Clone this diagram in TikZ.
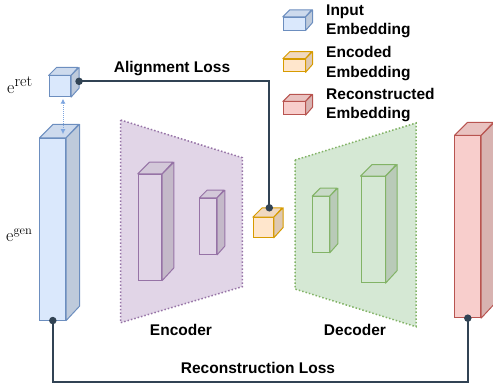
\documentclass[tikz,border=0pt]{standalone}
\usepackage{fontspec}
\usetikzlibrary{arrows.meta,calc}
\newfontfamily\labfont{Liberation Sans}

\definecolor{blueF}{HTML}{DAE8FC}\definecolor{blueD}{HTML}{6C8EBF}
\definecolor{orangeF}{HTML}{FFE6CC}\definecolor{orangeD}{HTML}{D79B00}
\definecolor{redF}{HTML}{F8CECC}\definecolor{redD}{HTML}{B85450}
\definecolor{purpleF}{HTML}{E1D5E7}\definecolor{purpleD}{HTML}{9673A6}
\definecolor{greenF}{HTML}{D5E8D4}\definecolor{greenD}{HTML}{82B366}
\definecolor{linkC}{HTML}{314354}
\definecolor{arrowC}{HTML}{7EA6E0}

% cuboid: #1 name, #2 centre of front face, #3 width, #4 height, #5 depth, #6 fill, #7 stroke
\newcommand\cuboid[7]{%
  \node[draw=#7, fill=#6, line width=1pt, inner sep=0pt,
        minimum width=#3pt, minimum height=#4pt] (#1) at (#2) {};
  \draw[draw=#7, fill=#6!94!black, line width=1pt, line join=round]
    (#1.north west) -- ++(#5,-#5) -- ++(#3,0) -- (#1.north east) -- cycle;
  \draw[draw=#7, fill=#6!87!black, line width=1pt, line join=round]
    (#1.north east) -- ++(#5,-#5) -- ++(0,#4) -- (#1.south east) -- cycle;
}

% embedding symbol: large e with a raised tag
\newcommand\embsym[3]{{\fontsize{18}{20}\selectfont e}\raisebox{#2pt}{\fontsize{#3}{16}\selectfont #1}}

\tikzset{
  lab/.style={font=\labfont\bfseries\fontsize{15.5}{19.5}\selectfont, inner sep=0pt},
  legendtext/.style={lab, anchor=west, align=left},
  link/.style={draw=linkC, line width=1.8pt},
  dot/.style={circle, fill=linkC, inner sep=0pt, minimum size=7.5pt},
  stage/.style={dotted, line width=1.5pt},
  mathlab/.style={inner sep=0pt, anchor=base west, font=\rmfamily},
}

\begin{document}
\begin{tikzpicture}[x=1pt, y=-1pt]
\useasboundingbox (0,0) rectangle (493,388);

% encoder / decoder regions
\draw[stage, draw=purpleD, fill=purpleF]
  (120.7,120) -- (242.3,157.7) -- (242.3,286.7) -- (120.7,322.7) -- cycle;
\draw[stage, draw=greenD, fill=greenF]
  (295,160) -- (416,123) -- (416,326.7) -- (295,289) -- cycle;

% embeddings and layers
\cuboid{eret}{59.8,86.3}{21.5}{20.7}{8}{blueF}{blueD}
\cuboid{egen}{52.8,229.2}{25.7}{181.7}{13.5}{blueF}{blueD}
\cuboid{encA}{150,227.2}{23.4}{105.7}{11.7}{purpleF}{purpleD}
\cuboid{encB}{208.3,226.3}{16.7}{56}{7.6}{purpleF}{purpleD}
\cuboid{code}{263.3,227.5}{20}{19.6}{9.4}{orangeF}{orangeD}
\cuboid{decA}{321,224.5}{16.6}{55.6}{8}{greenF}{greenD}
\cuboid{decB}{373,229.7}{24}{106}{11.7}{greenF}{greenD}
\cuboid{recon}{467.8,226.8}{25.7}{181.7}{13}{redF}{redD}

% legend
\cuboid{legIn}{294.2,23.7}{21.7}{12.7}{7}{blueF}{blueD}
\cuboid{legEnc}{294.2,65.5}{21.7}{12.7}{7}{orangeF}{orangeD}
\cuboid{legRec}{294.2,108.3}{21.7}{12.7}{7}{redF}{redD}
\node[legendtext] (tIn) at (326,21.5) {Input\\Embedding};
\node[legendtext] (tEnc) at (326,63.5) {Encoded\\Embedding};
\node[legendtext] (tRec) at (326,105) {Reconstructed\\Embedding};

% labels
\node[mathlab] (lret) at (7,93.5) {\embsym{ret}{7.5}{16}};
\node[mathlab] (lgen) at (6,241) {\embsym{gen}{7}{12.5}};
\node[lab] (lenc) at (181,330) {Encoder};
\node[lab] (ldec) at (355,330) {Decoder};
\node[lab] (lalign) at (172,68.3) {Alignment Loss};
\node[lab] (lrec) at (258,368.3) {Reconstruction Loss};

% alignment loss connector
\coordinate (aStart) at ($(eret.east)+(8,-5)$);
\coordinate (aEnd) at ($(code.north)+(6,-9.4)$);
\draw[link] (aStart) -| (aEnd);
\node[dot] at (aStart) {};
\node[dot] at (aEnd) {};

% reconstruction loss connector
\coordinate (rLow) at (0,382.3);
\draw[link] (egen.south) -- (egen.south |- rLow) -- (recon.south |- rLow) -- (recon.south);
\node[dot] at (egen.south) {};
\node[dot] at (recon.south) {};

% link between the two input embeddings
\draw[draw=arrowC, densely dotted, line width=1pt,
      {Latex[length=5pt,width=5pt]}-{Latex[length=5pt,width=5pt]}]
  ($(eret.south)+(3.2,1.5)$) -- ($(eret.south)+(3.2,37)$);
\end{tikzpicture}
\end{document}
